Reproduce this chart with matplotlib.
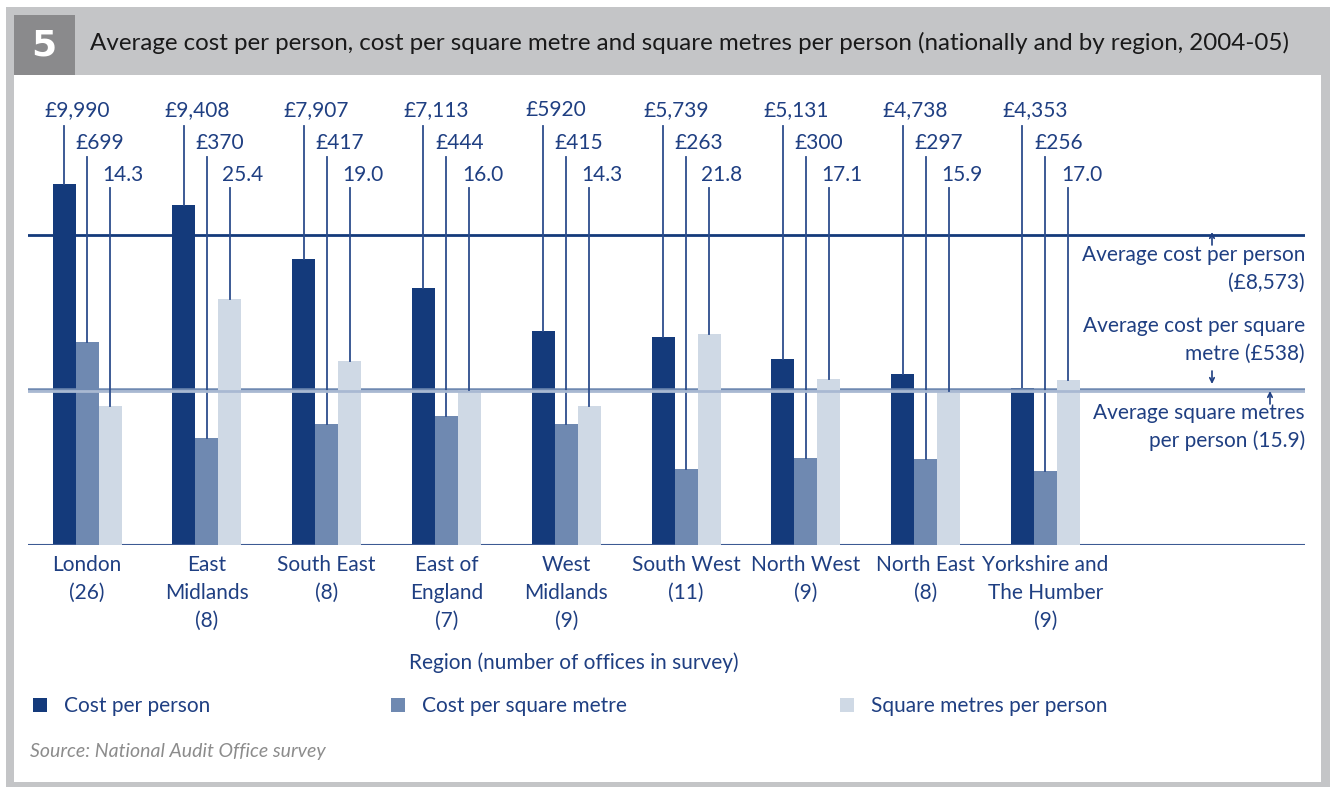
import numpy as np
import matplotlib
matplotlib.use('Agg')
import matplotlib.pyplot as plt
from matplotlib.patches import Rectangle, FancyArrowPatch

plt.rcParams['font.family'] = ['Lato', 'DejaVu Sans']

# Données
regions = ['London\n(26)', 'East\nMidlands\n(8)', 'South East\n(8)', 'East of\nEngland\n(7)',
           'West\nMidlands\n(9)', 'South West\n(11)', 'North West\n(9)', 'North East\n(8)',
           'Yorkshire and\nThe Humber\n(9)']
cost_per_person = [9990, 9408, 7907, 7113, 5920, 5739, 5131, 4738, 4353]
cost_per_sqm = [699, 370, 417, 444, 415, 263, 300, 297, 256]
sqm_per_person = [14.3, 25.4, 19.0, 16.0, 14.3, 21.8, 17.1, 15.9, 17.0]
cpp_labels = ['£9,990', '£9,408', '£7,907', '£7,113', '£5920', '£5,739', '£5,131', '£4,738', '£4,353']
cpsm_labels = ['£699', '£370', '£417', '£444', '£415', '£263', '£300', '£297', '£256']
sqm_labels = ['14.3', '25.4', '19.0', '16.0', '14.3', '21.8', '17.1', '15.9', '17.0']
avg_cpp = 8573
avg_cpsm = 538
avg_sqm = 15.9

# Couleurs
dark = '#143a7b'
mid = '#6f89b1'
light = '#cfd9e5'
txt = '#1f3f82'
W, H = 1330, 787

fig = plt.figure(figsize=(W / 100, H / 100), dpi=100)
fig.patch.set_facecolor('white')

def px_rect(x0, y0, x1, y1, color):
    fig.add_artist(Rectangle((x0 / W, 1 - y1 / H), (x1 - x0) / W, (y1 - y0) / H,
                             transform=fig.transFigure, color=color, lw=0, zorder=0))

# Cadre et bandeau
px_rect(6, 7, 1330, 787, '#c4c5c7')
px_rect(14, 75, 1321, 782, 'white')
px_rect(14, 15, 75, 75, '#8a8a8c')
fig.text(44 / W, 1 - 46 / H, '5', color='white', fontsize=26, fontweight='bold',
         family='DejaVu Sans', ha='center', va='center')
fig.text(90 / W, 1 - 43 / H,
         'Average cost per person, cost per square metre and square metres per person (nationally and by region, 2004-05)',
         color='#1a1a1a', fontsize=17.4, ha='left', va='center')

# Axes (trois échelles)
left, right, bottom, top = 28, 1305, 545, 95
pos = [left / W, 1 - bottom / H, (right - left) / W, (bottom - top) / H]
ax = fig.add_axes(pos)
ax2 = ax.twinx()
ax3 = ax.twinx()
ax.set_ylim(0, (bottom - top) / 0.03617)
ax2.set_ylim(0, (bottom - top) / 0.2905)
ax3.set_ylim(0, (bottom - top) / 9.70)
xmin = -(87 - left) / 119.8
ax.set_xlim(xmin, xmin + (right - left) / 119.8)
for a in (ax, ax2, ax3):
    a.set_facecolor('none')
    a.axis('off')

x = np.arange(len(regions))
bw = 23 / 119.8
ax.bar(x - bw, cost_per_person, bw, color=dark, zorder=2)
ax2.bar(x, cost_per_sqm, bw, color=mid, zorder=2)
ax3.bar(x + bw, sqm_per_person, bw, color=light, zorder=2)

# Lignes de moyenne
ax.axhline(avg_cpp, color=dark, lw=2, zorder=3)
ax3.axhline(avg_sqm, color='#a9b9d2', lw=2, zorder=3)
ax2.axhline(avg_cpsm, color=mid, lw=1.8, zorder=3.5)
ax.axhline(0, color='#3d5a93', lw=1.5, zorder=3)

# Étiquettes et traits de rappel
rows = [(ax, cost_per_person, cpp_labels, -bw, 110, 126),
        (ax2, cost_per_sqm, cpsm_labels, 0, 143, 157),
        (ax3, sqm_per_person, sqm_labels, bw, 175, 188)]
for a, vals, labs, off, ty, ly in rows:
    ytop = a.get_ylim()[1] * (bottom - ly) / (bottom - top)
    ytxt = (bottom - ty) / (bottom - top)
    for i, (v, lab) in enumerate(zip(vals, labs)):
        a.plot([i + off, i + off], [v, ytop], color='#2d4d8c', lw=1.3, zorder=4)
        a.text(i + off + 13 / 119.8, ytxt, lab, transform=a.get_xaxis_transform(),
               ha='center', va='center', fontsize=15, color=txt)

# Catégories
for i, r in enumerate(regions):
    ax.text(i, -10 / 450, r, transform=ax.get_xaxis_transform(), ha='center', va='top',
            fontsize=15, color=txt, linespacing=1.5)
fig.text(574 / W, 1 - 663 / H, 'Region (number of offices in survey)', ha='center',
         va='center', fontsize=15, color=txt)

# Annotations des moyennes
fig.text(1305 / W, 1 - 269 / H, 'Average cost per person\n(£8,573)', ha='right',
         va='center', fontsize=15, color=txt, linespacing=1.5)
fig.text(1305 / W, 1 - 340 / H, 'Average cost per square\nmetre (£538)', ha='right',
         va='center', fontsize=15, color=txt, linespacing=1.5)
fig.text(1305 / W, 1 - 427 / H, 'Average square metres\nper person (15.9)', ha='right',
         va='center', fontsize=15, color=txt, linespacing=1.5)
for (xa, y0, y1) in [(1212, 245, 232), (1212, 371, 384), (1270, 404, 391)]:
    fig.add_artist(FancyArrowPatch(
        (xa / W, 1 - y0 / H), (xa / W, 1 - y1 / H), transform=fig.transFigure,
        arrowstyle='->', mutation_scale=8, color=txt, lw=1.2, shrinkA=0, shrinkB=0))

# Légende
for xs, col, lab in [(33, dark, 'Cost per person'), (391, mid, 'Cost per square metre'),
                     (840, light, 'Square metres per person')]:
    px_rect(xs, 698, xs + 14, 712, col)
    fig.text((xs + 31) / W, 1 - 706 / H, lab, ha='left', va='center', fontsize=15, color=txt)

fig.text(30 / W, 1 - 752 / H, 'Source: National Audit Office survey', ha='left', va='center',
         fontsize=14, color='#8c8c8c', style='italic')

fig.savefig('out.png', dpi=100)
